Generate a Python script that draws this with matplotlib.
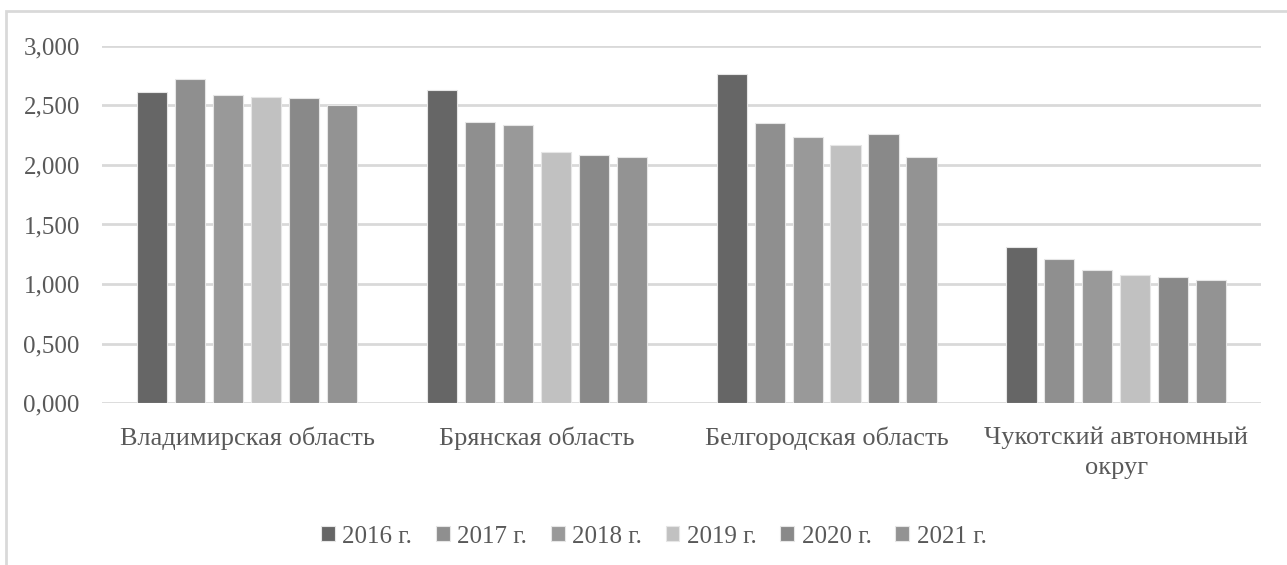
import numpy as np
import matplotlib.pyplot as plt
from matplotlib.patches import Rectangle

plt.rcParams['font.family'] = ['Liberation Serif', 'DejaVu Serif']

# данные
regions = ["Владимирская область", "Брянская область", "Белгородская область",
           "Чукотский автономный\nокруг"]
years = ["2016 г.", "2017 г.", "2018 г.", "2019 г.", "2020 г.", "2021 г."]
v2016 = [2.612, 2.626, 2.763, 1.310]
v2017 = [2.726, 2.361, 2.349, 1.209]
v2018 = [2.584, 2.336, 2.236, 1.120]
v2019 = [2.573, 2.110, 2.171, 1.073]
v2020 = [2.562, 2.085, 2.261, 1.059]
v2021 = [2.502, 2.068, 2.068, 1.033]
colors = ['#666666', '#8f8f8f', '#999999', '#c1c1c1', '#898989', '#939393']

series = [v2016, v2017, v2018, v2019, v2020, v2021]
text_col = '#595959'

fig = plt.figure(figsize=(12.87, 5.65), dpi=100)
ax = fig.add_axes([0.0793, 0.2867, 0.9007, 0.632])

x = np.arange(len(regions))
pitch = 0.131
width = 0.104
for i, (vals, lab) in enumerate(zip(series, years)):
    ax.bar(x + (i - 2.5) * pitch, vals, width, color=colors[i], label=lab,
           edgecolor='#e6e6e6', linewidth=0.8, zorder=3)

ax.set_xlim(-0.5, len(regions) - 0.5)
ax.set_ylim(0, 3)
ax.set_yticks(np.arange(0, 3.01, 0.5))
ax.set_yticklabels([f"{t:.3f}".replace('.', ',') for t in np.arange(0, 3.01, 0.5)])
ax.set_xticks(x)
ax.set_xticklabels(regions, linespacing=1.45)
ax.yaxis.grid(True, color='#d9d9d9', linewidth=2, zorder=0)
for s in ax.spines.values():
    s.set_visible(False)
ax.tick_params(length=0, labelcolor=text_col)
ax.tick_params(axis='y', pad=16, labelsize=18)
ax.tick_params(axis='x', pad=17, labelsize=19)

leg = fig.legend(loc='center', bbox_to_anchor=(0.508, 0.05), ncol=6, frameon=False,
                 fontsize=18, handlelength=0.55, handleheight=0.55, handletextpad=0.3,
                 columnspacing=0.95)
for t in leg.get_texts():
    t.set_color(text_col)

# рамка диаграммы
fig.patches.append(Rectangle((6 / 1287, -0.1), 1.2, (565 - 11) / 565 + 0.1,
                             transform=fig.transFigure, fill=False,
                             edgecolor='#d9d9d9', linewidth=2))

fig.savefig('out.png', dpi=100)
